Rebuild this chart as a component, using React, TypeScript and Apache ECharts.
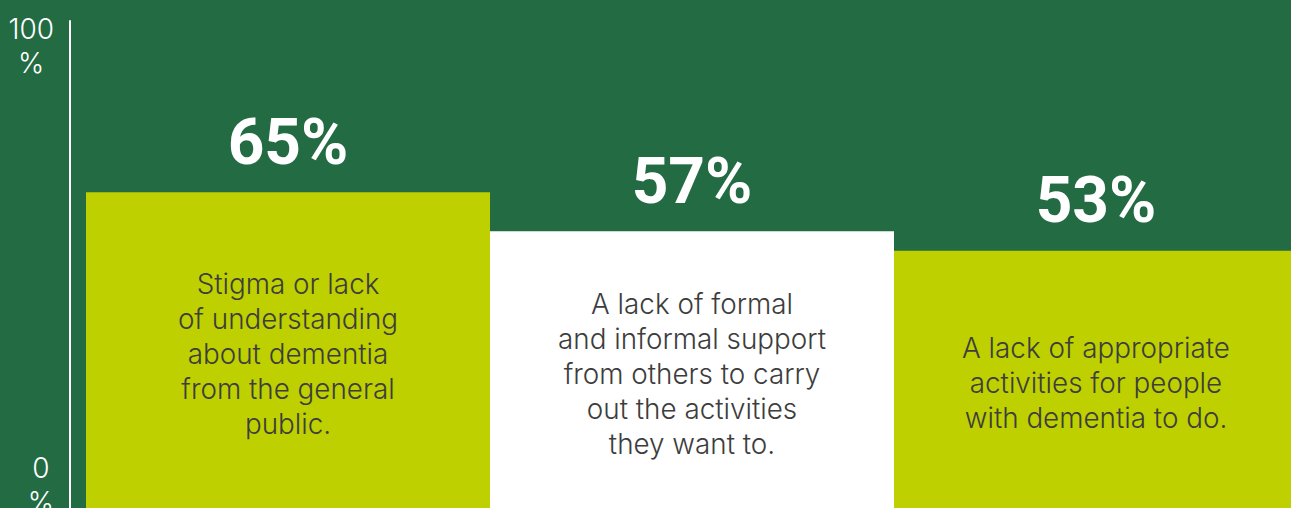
import React, { useEffect, useRef } from "react";
import * as echarts from "echarts";

const categories = [
  "Stigma or lack\nof understanding\nabout dementia\nfrom the general\npublic.",
  "A lack of formal\nand informal support\nfrom others to carry\nout the activities\nthey want to.",
  "A lack of appropriate\nactivities for people\nwith dementia to do.",
];
const values = [65, 57, 53];
const barColors = ["#bed000", "#ffffff", "#bed000"];
const yTicks = [0, 100];

export default function App() {
  const ref = useRef<HTMLDivElement>(null);
  useEffect(() => {
    if (!ref.current) return;
    const chart = echarts.init(ref.current, null, { renderer: "svg" });
    chart.setOption({
      animation: false,
      backgroundColor: "#226b43",
      grid: {
        left: 86,
        right: -7,
        top: 21,
        bottom: -2,
        containLabel: false,
        outerBoundsMode: "none",
      },
      xAxis: {
        type: "category",
        data: categories,
        show: false,
      },
      yAxis: {
        type: "value",
        min: yTicks[0],
        max: yTicks[1],
        interval: 100,
        offset: 16,
        splitLine: { show: false },
        axisTick: { show: false },
        axisLine: { show: true, lineStyle: { color: "#ffffff", width: 2 } },
        axisLabel: {
          margin: 16,
          formatter: (v: number) =>
            v === 100 ? "{sp| }\n{n|" + v + "}\n{n|%}" : "{n|" + v + "}\n{n|%}\n{sp| }",
          rich: {
            n: {
              fontFamily: "Inter",
              fontWeight: 300,
              fontSize: 28,
              lineHeight: 34,
              color: "#ffffff",
              align: "center",
            },
            sp: { fontSize: 10, lineHeight: 50, align: "center" },
          },
        },
      },
      series: [
        {
          type: "bar",
          barWidth: "100%",
          barGap: "-100%",
          data: values.map((v, i) => ({ value: v, itemStyle: { color: barColors[i] } })),
          label: {
            show: true,
            position: "top",
            distance: 18,
            formatter: "{c}%",
            color: "#ffffff",
            fontFamily: "Roboto",
            fontWeight: 700,
            fontSize: 64,
          },
        },
        {
          type: "bar",
          barWidth: "100%",
          barGap: "-100%",
          data: values,
          itemStyle: { color: "rgba(0,0,0,0)" },
          label: {
            show: true,
            position: "inside",
            offset: [0, 3],
            formatter: (p: any) => categories[p.dataIndex],
            color: "#3d3d3d",
            fontFamily: "Inter",
            fontWeight: 300,
            fontSize: 27.8,
            lineHeight: 35,
            align: "center",
          },
        },
      ],
    });
    return () => chart.dispose();
  }, []);
  return (
    <div
      ref={ref}
      style={{ position: "fixed", left: 0, top: 0, width: 1291, height: 508 }}
    />
  );
}
